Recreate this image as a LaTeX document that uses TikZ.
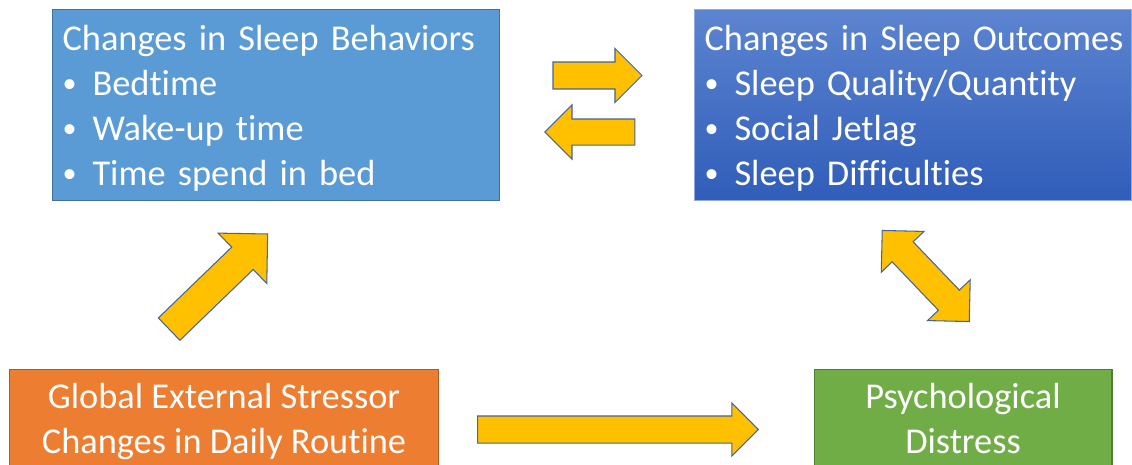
\documentclass[tikz,border=0pt]{standalone}
\usepackage{fontspec}
\setmainfont{Carlito}[Ligatures=NoCommon]
\usetikzlibrary{positioning, shapes.arrows, calc}
\definecolor{behblue}{RGB}{91,155,213}
\definecolor{behedge}{RGB}{65,113,156}
\definecolor{outtop}{RGB}{92,132,208}
\definecolor{outbot}{RGB}{48,93,185}
\definecolor{outedge}{RGB}{143,170,220}
\definecolor{stressorange}{RGB}{237,125,49}
\definecolor{stressedge}{RGB}{174,90,33}
\definecolor{distgreen}{RGB}{112,173,71}
\definecolor{distedge}{RGB}{80,126,50}
\definecolor{arrowgold}{RGB}{255,192,0}
\definecolor{arrowedge}{RGB}{68,100,158}
\newcommand{\boxtitle}[1]{\mbox{\rule{0pt}{0.62cm}#1}}
\newcommand{\sleepitem}[1]{\makebox[0.6cm][l]{\raisebox{1.5pt}{\fontsize{16pt}{16pt}\selectfont\textbullet}}#1}

\begin{document}
\begin{tikzpicture}[x=0.02cm, y=-0.02cm,
      box/.style={rectangle, line width=0.6pt, text=white,
                  font=\fontsize{20.7pt}{25.6pt}\selectfont},
      listbox/.style={box, anchor=north west, align=left, inner xsep=0.2cm,
                  text width=#1, minimum height=3.82cm},
      centbox/.style={box, anchor=north, align=center, minimum height=2.06cm},
      blockarr/.style={draw=arrowedge, fill=arrowgold, line width=0.6pt, inner xsep=0pt}]
    \useasboundingbox (0,0) rectangle (1132,465);
    \clip (0,0) rectangle (1132,465);
    % the four boxes
    \node[listbox=8.54cm, draw=behedge, fill=behblue] (beh) at (52,9)
      {\boxtitle{Changes in Sleep Behaviors}\\ \sleepitem{Bedtime}\\ \sleepitem{Wake-up time}\\
       \sleepitem{Time spend in bed}};
    \node[listbox=8.34cm, draw=outedge, top color=outtop, bottom color=outbot] (out) at (694,9)
      {\boxtitle{Changes in Sleep Outcomes}\\ \sleepitem{Sleep Quality/Quantity}\\ \sleepitem{Social Jetlag}\\
       \sleepitem{Sleep Difficulties}};
    \node[centbox, draw=stressedge, fill=stressorange, minimum width=8.6cm] (glob) at (224,369)
      {Global External Stressor\\ Changes in Daily Routine};
    \node[centbox, draw=distedge, fill=distgreen, minimum width=5.96cm] (psy) at (963,369)
      {Psychological\\ Distress\vphantom{g}};
    % block arrows, placed by their tails
    \node[blockarr, single arrow, anchor=tail, inner ysep=0.26cm, single arrow head extend=0.27cm,
          minimum height=1.78cm] (fwd) at ($(beh.east)!.5!(out.west) + (-44.5,-29.5)$) {};
    \node[blockarr, single arrow, shape border rotate=180, anchor=tail, inner ysep=0.25cm,
          single arrow head extend=0.28cm, minimum height=1.8cm] (bwd)
          at ($(beh.east)!.5!(out.west) + (38.5,27)$) {};
    \node[blockarr, single arrow, anchor=tail, inner ysep=0.26cm, single arrow head extend=0.26cm,
          minimum height=5.62cm] (route) at ($(glob.east)!.5!(psy.west) + (-149.5,8.5)$) {};
    \node[blockarr, single arrow, rotate=44, anchor=tail, inner ysep=0.3cm,
          single arrow head extend=0.39cm, minimum height=2.74cm] (up)
          at ($(glob.north)!.5!(beh.south) + (-81.25,44.5)$) {};
    \node[blockarr, double arrow, rotate=-46.3, inner ysep=0.28cm, double arrow head extend=0.3cm,
          minimum height=2.52cm] (both) at ($(out.south)!.5!(psy.north) + (-12.25,-9)$) {};
  \end{tikzpicture}
\end{document}
